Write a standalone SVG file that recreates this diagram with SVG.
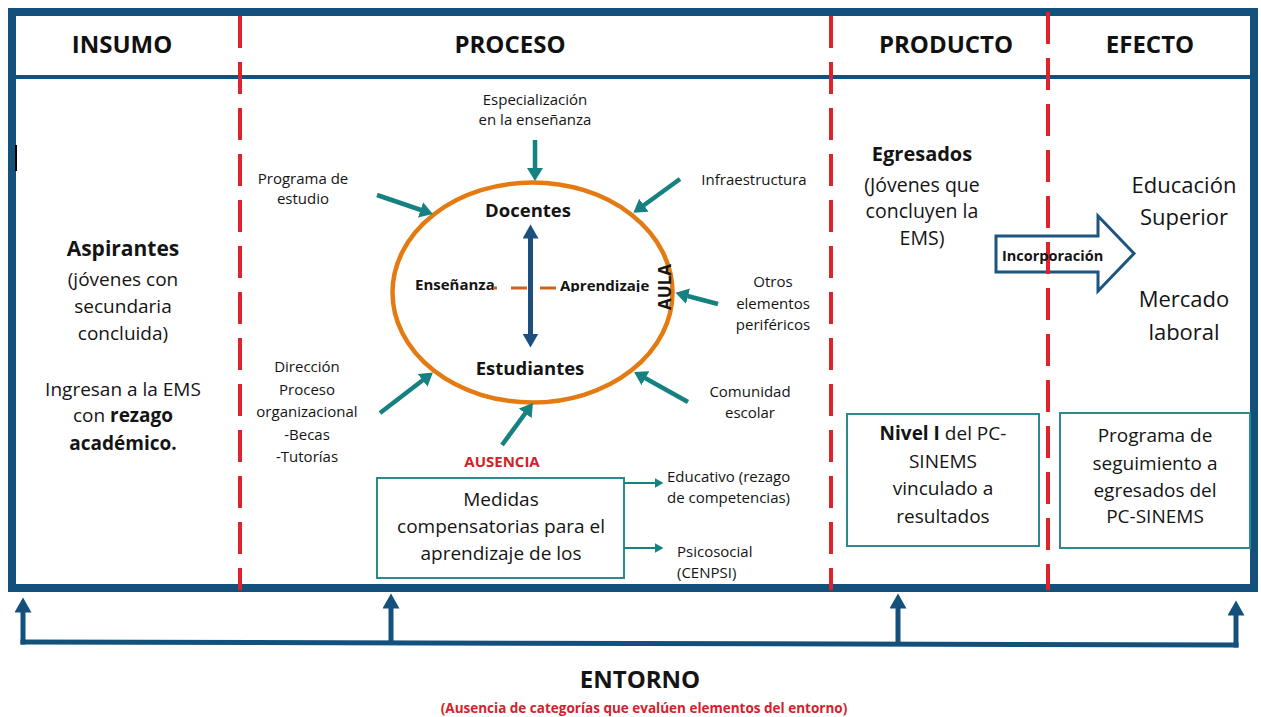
<svg xmlns="http://www.w3.org/2000/svg" width="1261" height="717" viewBox="0 0 1261 717">
<style>
.t{font-family:"Open Sans","Liberation Sans",sans-serif;fill:#141414}
.b{font-weight:bold}
.c{text-anchor:middle}
.hdr{font-family:"Open Sans","Liberation Sans",sans-serif;font-size:24px;font-weight:bold;text-anchor:middle;fill:#111}
.s{font-size:15px}
.red{fill:none;stroke:#E0232B;stroke-width:4;stroke-dasharray:32 14}
.teal{fill:none;stroke:#168181;stroke-width:4.5;marker-end:url(#ta)}
.tealthin{fill:none;stroke:#168181;stroke-width:2;marker-end:url(#tas)}
.navy{fill:none;stroke:#14507C;stroke-width:5}
.box{fill:#fff;stroke:#2B8A8A;stroke-width:2}
</style>
<defs>
<marker id="ta" markerUnits="userSpaceOnUse" markerWidth="14" markerHeight="16" refX="0.5" refY="8" orient="auto"><path d="M0,0 L13,8 L0,16 z" fill="#168181"/></marker>
<marker id="tas" markerUnits="userSpaceOnUse" markerWidth="10" markerHeight="10" refX="0.5" refY="5" orient="auto"><path d="M0,0 L9,5 L0,10 z" fill="#168181"/></marker>
<marker id="na" markerUnits="userSpaceOnUse" markerWidth="16" markerHeight="17" refX="0.5" refY="8.5" orient="auto"><path d="M0,0 L15,8.5 L0,17 z" fill="#14507C"/></marker>
<marker id="nd" markerUnits="userSpaceOnUse" markerWidth="15" markerHeight="16" refX="0.5" refY="8" orient="auto-start-reverse"><path d="M0,0 L14,8 L0,16 z" fill="#1B4F7D"/></marker>
<clipPath id="clipAp"><rect x="550" y="268" width="112" height="24"/></clipPath>
</defs>
<rect width="1261" height="717" fill="#fff"/>

<g id="frame">
<rect x="12" y="12" width="1242" height="576" fill="none" stroke="#14507C" stroke-width="8"/>
<line x1="12" y1="77" x2="1254" y2="77" stroke="#14507C" stroke-width="4"/>
<rect x="15" y="145" width="2" height="26" fill="#000"/>
</g>

<g id="headers">
<text class="hdr" x="122" y="53">INSUMO</text>
<text class="hdr" x="510" y="53">PROCESO</text>
<text class="hdr" x="946" y="53">PRODUCTO</text>
<text class="hdr" x="1150" y="53">EFECTO</text>
</g>

<g id="insumo">
<text class="t b c" font-size="21" x="123" y="256">Aspirantes</text>
<text class="t c" font-size="19" x="123" y="286">(jóvenes con</text>
<text class="t c" font-size="19" x="123" y="313">secundaria</text>
<text class="t c" font-size="19" x="123" y="340">concluida)</text>
<text class="t c" font-size="19" x="123" y="396">Ingresan a la EMS</text>
<text class="t c" font-size="19" x="123" y="422">con <tspan font-weight="bold">rezago</tspan></text>
<text class="t b c" font-size="19" x="123" y="450">académico.</text>
</g>

<g id="aula">
<ellipse cx="532.5" cy="292.5" rx="140" ry="110" fill="none" stroke="#E47B12" stroke-width="4.5"/>
<text class="t b c" font-size="18.5" x="528" y="217">Docentes</text>
<text class="t b c" font-size="18.5" x="530" y="375">Estudiantes</text>
<text class="t b" font-size="15" x="415" y="290">Enseñanza</text>
<text class="t b" font-size="15" x="560" y="291" clip-path="url(#clipAp)">Aprendizaje</text>
<line x1="493" y1="288" x2="556" y2="288" stroke="#C8641E" stroke-width="3" stroke-dasharray="4 14 16 13 16"/>
<text class="t b c" font-size="17" transform="translate(671,287) rotate(-90)">AULA</text>
</g>

<g id="especializacion">
<text class="t c s" x="535" y="105">Especialización</text>
<text class="t c s" x="535" y="125">en la enseñanza</text>
</g>
<g id="programa-estudio">
<text class="t c s" x="303" y="184">Programa de</text>
<text class="t c s" x="303" y="204">estudio</text>
</g>
<g id="infraestructura">
<text class="t c s" x="754" y="185">Infraestructura</text>
</g>
<g id="otros-elementos">
<text class="t c s" x="773" y="287">Otros</text>
<text class="t c s" x="773" y="309">elementos</text>
<text class="t c s" x="773" y="330">periféricos</text>
</g>
<g id="comunidad">
<text class="t c s" x="750" y="397">Comunidad</text>
<text class="t c s" x="750" y="418">escolar</text>
</g>
<g id="direccion">
<text class="t c s" x="307" y="372">Dirección</text>
<text class="t c s" x="307" y="394.5">Proceso</text>
<text class="t c s" x="307" y="417">organizacional</text>
<text class="t c s" x="307" y="439.5">-Becas</text>
<text class="t c s" x="307" y="462">-Tutorías</text>
</g>
<g id="ausencia">
<text class="t b c" font-size="15" x="502" y="467" style="fill:#D42129">AUSENCIA</text>
</g>
<g id="medidas">
<rect class="box" x="377" y="478" width="247" height="100"/>
<text class="t c" font-size="19" x="501" y="506">Medidas</text>
<text class="t c" font-size="19" x="501" y="533">compensatorias para el</text>
<text class="t c" font-size="19" x="501" y="560">aprendizaje de los</text>
</g>
<g id="educativo">
<text class="t s" x="667" y="482">Educativo (rezago</text>
<text class="t s" x="667" y="503">de competencias)</text>
</g>
<g id="psicosocial">
<text class="t s" x="677" y="557">Psicosocial</text>
<text class="t s" x="677" y="578">(CENPSI)</text>
</g>

<g id="egresados">
<text class="t b c" font-size="20" x="922" y="161">Egresados</text>
<text class="t c" font-size="19.5" x="922" y="192">(Jóvenes que</text>
<text class="t c" font-size="19.5" x="922" y="218">concluyen la</text>
<text class="t c" font-size="19.5" x="922" y="245">EMS)</text>
</g>
<g id="nivel">
<rect class="box" x="847" y="414" width="192" height="132"/>
<text class="t c" font-size="19" x="943" y="440"><tspan font-weight="bold">Nivel I</tspan> del PC-</text>
<text class="t c" font-size="19" x="943" y="468">SINEMS</text>
<text class="t c" font-size="19" x="943" y="495">vinculado a</text>
<text class="t c" font-size="19" x="943" y="523">resultados</text>
</g>
<g id="educacion-superior">
<text class="t c" font-size="22" x="1184" y="193">Educación</text>
<text class="t c" font-size="22" x="1184" y="225">Superior</text>
</g>
<g id="mercado-laboral">
<text class="t c" font-size="22" x="1184" y="307">Mercado</text>
<text class="t c" font-size="22" x="1184" y="340">laboral</text>
</g>
<g id="seguimiento">
<rect class="box" x="1060" y="413" width="190" height="135"/>
<text class="t c" font-size="19" x="1155" y="442">Programa de</text>
<text class="t c" font-size="19" x="1155" y="470">seguimiento a</text>
<text class="t c" font-size="19" x="1155" y="497">egresados del</text>
<text class="t c" font-size="19" x="1155" y="523">PC-SINEMS</text>
</g>

<g id="incorporacion">
<polygon points="996,236 1098,236 1098,216 1134,253.5 1098,291 1098,272 996,272" fill="#fff" stroke="#1B5580" stroke-width="3"/>
</g>

<g id="dividers">
<line class="red" x1="240" y1="16" x2="240" y2="590"/>
<line class="red" x1="831" y1="16" x2="831" y2="590"/>
<line class="red" x1="1048" y1="12" x2="1048" y2="590"/>
</g>
<text class="t b" font-size="14.5" x="1002" y="261">Incorporación</text>

<g id="connectors">
<line class="teal" x1="377" y1="195" x2="421" y2="210"/>
<line class="teal" x1="535" y1="140" x2="535" y2="168.5"/>
<line class="teal" x1="680" y1="179" x2="643.5" y2="205.5"/>
<line class="teal" x1="718" y1="304" x2="687.5" y2="296"/>
<line class="teal" x1="688" y1="402" x2="645" y2="378"/>
<line class="teal" x1="502" y1="445" x2="525.5" y2="413"/>
<line class="teal" x1="380" y1="413" x2="423" y2="380"/>
<line x1="530.5" y1="238" x2="530.5" y2="334" stroke="#1B4F7D" stroke-width="5" marker-start="url(#nd)" marker-end="url(#nd)"/>
<line class="tealthin" x1="624" y1="483" x2="655" y2="483"/>
<line class="tealthin" x1="624" y1="548" x2="655" y2="548"/>
<line class="navy" x1="20.5" y1="642" x2="1238.5" y2="645"/>
<line class="navy" x1="23" y1="644.5" x2="23" y2="612" marker-end="url(#na)"/>
<line class="navy" x1="391" y1="643" x2="391" y2="608" marker-end="url(#na)"/>
<line class="navy" x1="898" y1="644" x2="898" y2="608" marker-end="url(#na)"/>
<line class="navy" x1="1236" y1="647.5" x2="1236" y2="615" marker-end="url(#na)"/>
</g>

<g id="entorno">
<text class="t b c" font-size="24" x="640" y="688">ENTORNO</text>
<text class="t b c" font-size="13.5" x="644" y="713" style="fill:#D42129">(Ausencia de categorías que evalúen elementos del entorno)</text>
</g>
</svg>
